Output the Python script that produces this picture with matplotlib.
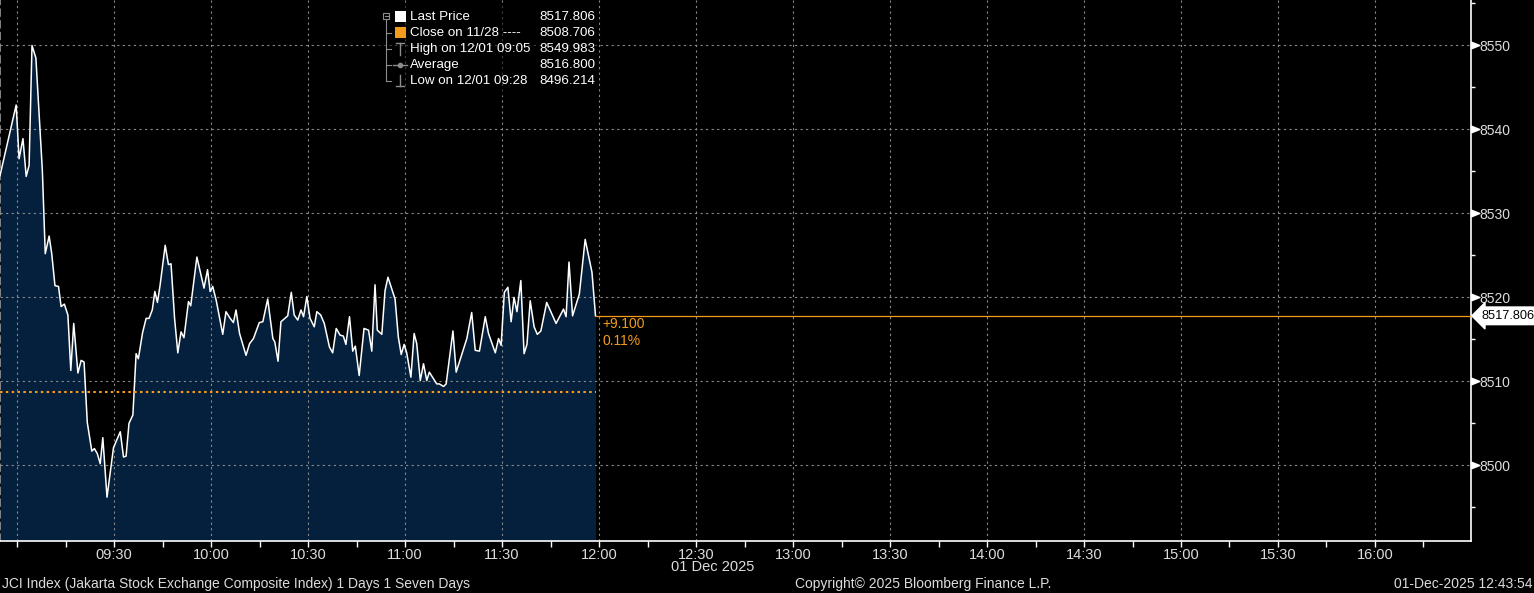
import numpy as np
import matplotlib
matplotlib.use("Agg")
import matplotlib.pyplot as plt
from matplotlib.path import Path
from matplotlib.ticker import FixedLocator, FuncFormatter
from matplotlib.transforms import blended_transform_factory

# minutes after 09:00 and JCI level
minutes = [-5.3, -0.3, 0.6, 1.8, 2.8, 3.7, 4.6, 5.8, 7.8, 8.7, 9.9, 10.7, 11.7, 12.8, 13.6,
           14.6, 15.7, 16.6, 17.5, 18.8, 19.8, 20.7, 21.7, 23.1, 23.9, 24.8, 25.7, 26.5, 27.8,
           29.8, 31.9, 32.9, 33.7, 34.6, 35.8, 36.8, 37.5, 38.8, 39.9, 40.8, 41.8, 42.6, 43.4,
           44.2, 45.8, 46.8, 47.6, 48.7, 49.7, 50.7, 51.6, 53.0, 53.7, 55.6, 57.8, 58.9, 59.7,
           60.5, 61.6, 63.6, 64.6, 65.9, 66.9, 67.7, 68.8, 70.8, 71.9, 73.1, 74.9, 76.0, 77.5,
           79.1, 79.7, 80.7, 81.6, 83.7, 84.8, 85.7, 86.8, 87.8, 88.6, 89.6, 90.6, 91.9, 92.7,
           93.9, 95.0, 96.6, 97.6, 98.7, 99.9, 100.9, 101.7, 102.8, 103.8, 104.6, 105.8, 107.3,
           108.7, 109.7, 110.7, 111.4, 112.8, 113.8, 114.7, 115.9, 116.9, 117.9, 118.8, 119.7,
           120.5, 121.8, 122.8, 123.6, 124.7, 125.7, 126.7, 127.5, 129.8, 130.6, 131.9, 132.7,
           133.8, 134.8, 135.8, 139.1, 140.6, 141.7, 143.0, 144.8, 145.8, 147.9, 148.9, 149.7,
           150.7, 151.8, 152.8, 153.7, 154.6, 155.8, 156.8, 157.7, 158.7, 159.9, 160.9, 162.0,
           163.8, 166.7, 169.0, 169.8, 170.7, 171.8, 173.9, 175.7, 177.8, 178.9]
price = [8534.5, 8542.9, 8536.5, 8538.9, 8534.4, 8535.7, 8549.983, 8548.5, 8535.1, 8525.2,
         8527.3, 8525.2, 8521.4, 8521.3, 8518.9, 8519.2, 8517.9, 8511.3, 8516.9, 8511.0, 8512.5,
         8512.3, 8505.1, 8501.7, 8502.0, 8501.4, 8500.2, 8503.3, 8496.214, 8502.1, 8504.0,
         8501.0, 8501.1, 8505.0, 8506.0, 8513.3, 8512.7, 8515.8, 8517.5, 8517.5, 8518.5, 8520.7,
         8519.4, 8521.4, 8526.2, 8523.9, 8524.0, 8517.5, 8513.4, 8515.9, 8515.2, 8519.5, 8519.0,
         8524.8, 8521.1, 8523.3, 8520.7, 8521.3, 8519.6, 8515.6, 8518.3, 8517.5, 8517.0, 8518.5,
         8515.7, 8513.1, 8514.5, 8515.1, 8517.0, 8517.1, 8519.8, 8515.1, 8514.7, 8512.4, 8517.1,
         8517.8, 8520.6, 8517.9, 8517.3, 8518.5, 8517.7, 8520.1, 8517.5, 8516.5, 8518.3, 8517.9,
         8516.9, 8514.1, 8513.4, 8516.3, 8515.5, 8515.4, 8514.4, 8517.7, 8513.6, 8514.2, 8510.7,
         8516.3, 8516.1, 8513.6, 8521.5, 8516.1, 8515.6, 8520.8, 8522.4, 8521.0, 8519.8, 8515.3,
         8513.2, 8514.4, 8513.4, 8510.5, 8515.7, 8514.5, 8510.1, 8512.1, 8510.1, 8511.1, 8509.7,
         8509.7, 8509.4, 8509.7, 8513.0, 8516.0, 8511.1, 8515.1, 8518.2, 8513.7, 8513.6, 8517.7,
         8515.7, 8513.4, 8515.1, 8514.3, 8520.6, 8521.2, 8517.1, 8520.0, 8518.3, 8522.0, 8513.3,
         8514.4, 8519.6, 8516.5, 8515.6, 8516.0, 8519.4, 8516.9, 8518.6, 8517.7, 8524.2, 8517.8,
         8520.4, 8526.9, 8523.0, 8517.806]

prev_close = 8508.706
average = 8516.800
high_label = "High on 12/01 09:05"
low_label = "Low on 12/01 09:28"
y_ticks = [8500, 8510, 8520, 8530, 8540, 8550]

ORANGE = "#f39c1b"
NAVY = "#04203d"
GRID = "#8a8a8a"
TXT = "#dcdcdc"

plt.rcParams['font.family'] = ['Liberation Sans', 'DejaVu Sans']

fig = plt.figure(figsize=(15.34, 5.93), dpi=100, facecolor="black")
ax = fig.add_axes([0, 52 / 593, 1471 / 1534, 541 / 593])
ax.set_facecolor("black")

xmin, xmax = -5.3, 449.7
ymin, ymax = 8491.0, 8555.4
ax.set_xlim(xmin, xmax)
ax.set_ylim(ymin, ymax)

last = price[-1]
ax.fill_between(minutes, price, ymin, color=NAVY, lw=0, zorder=1)
ax.plot(minutes, price, color="white", lw=1.1, zorder=3)
ax.plot([minutes[0], minutes[-1]], [prev_close, prev_close], color=ORANGE, lw=1.5,
        ls=(0, (1.2, 1.6)), zorder=4)
ax.plot([minutes[-1], xmax], [last, last], color=ORANGE, lw=0.9, zorder=4)

chg = last - prev_close
ax.annotate(f"{chg:+.3f}", (minutes[-1], last), xytext=(5, -6), textcoords="offset points",
            color=ORANGE, fontsize=10, va="center", ha="left")
ax.annotate(f"{chg / prev_close * 100:.2f}%", (minutes[-1], last), xytext=(5, -18),
            textcoords="offset points", color=ORANGE, fontsize=10, va="center", ha="left")

# grid
for yv in y_ticks:
    ax.axhline(yv, color=GRID, lw=0.8, ls=(0, (2, 3)), zorder=2)
for xv in range(0, 450, 30):
    ax.axvline(xv, color=GRID, lw=0.8, ls=(0, (2, 3)), zorder=2)

# spines
ax.spines["top"].set_visible(False)
ax.spines["left"].set_color("#9a9a9a")
ax.spines["left"].set_linestyle((0, (4, 3)))
ax.spines["left"].set_linewidth(1.2)
ax.spines["right"].set_color("white")
ax.spines["bottom"].set_color("white")
ax.spines["right"].set_linewidth(1.2)
ax.spines["bottom"].set_linewidth(1.2)

# x axis: ticks each 15 min, labels each 30 min
ax.xaxis.set_major_locator(FixedLocator(list(range(0, 450, 15))))


def fmt_time(m, pos=None):
    m = int(round(m))
    if m % 30 != 0 or m == 0:
        return ""
    return f"{9 + m // 60:02d}:{m % 60:02d}"


ax.xaxis.set_major_formatter(FuncFormatter(fmt_time))
ax.tick_params(axis="x", colors="white", labelcolor=TXT, length=4, width=1, direction="out",
               labelsize=10.5, pad=1)

# y axis on the right
ax.yaxis.tick_right()
ax.yaxis.set_major_locator(FixedLocator(y_ticks))
ax.yaxis.set_minor_locator(FixedLocator([v + 5 for v in y_ticks] + [y_ticks[0] - 5]))
ax.yaxis.set_major_formatter(FuncFormatter(lambda v, p: f"{v:.0f}"))
ax.tick_params(axis="y", which="major", length=0, labelcolor=TXT, labelsize=10, pad=6)
ax.tick_params(axis="y", which="minor", length=3, width=1, color="white")
tri = Path([(0, -0.4), (1, 0), (0, 0.4), (0, -0.4)])
tr = blended_transform_factory(ax.transAxes, ax.transData)
ax.plot([1.0] * len(y_ticks), y_ticks, ls="none", marker=tri, ms=12, color="white",
        transform=tr, clip_on=False, zorder=6)

ax.annotate(f"{last:.3f}", (1.0, last), xycoords=tr, xytext=(7.5, 0), textcoords="offset points",
            ha="left", va="center", fontsize=9.2, color="black",
            bbox=dict(boxstyle="larrow,pad=0.22", fc="white", ec="white"), annotation_clip=False)

ax.text(215, -0.048, "01 Dec 2025", transform=blended_transform_factory(ax.transData, ax.transAxes),
        ha="center", va="center", color=TXT, fontsize=10.5)

# overlay for legend and footer (pixel coordinates)
ov = fig.add_axes([0, 0, 1, 1])
ov.set_xlim(0, 1534)
ov.set_ylim(593, 0)
ov.axis("off")
ov.patch.set_alpha(0)

ov.add_patch(plt.Rectangle((377, 4), 222, 92, fc="black", ec="none", alpha=0.55))
rows = [17, 33, 49, 65, 81]
labels = ["Last Price", "Close on 11/28 ----", high_label, "Average", low_label]
values = [last, prev_close, max(price), average, min(price)]
tree = "#8c8c8c"
ov.plot([386, 386], [20, rows[-1]], color=tree, lw=0.8)
for r in rows[1:]:
    ov.plot([386, 391], [r, r], color=tree, lw=0.8)
ov.add_patch(plt.Rectangle((383, 12.5), 6, 6, fc="none", ec=tree, lw=0.8))
ov.plot([384.5, 387.5], [15.5, 15.5], color=tree, lw=0.8)
ov.add_patch(plt.Rectangle((395, 11), 11, 11, fc="white", ec="none"))
ov.add_patch(plt.Rectangle((395, 27), 11, 11, fc=ORANGE, ec="none"))
ov.plot([396, 404], [43, 43], color=tree, lw=1)
ov.plot([400, 400], [43, 55], color=tree, lw=1)
ov.plot([393, 407], [65, 65], color=tree, lw=1)
ov.plot([400], [65], color=tree, marker="o", ms=3)
ov.plot([400, 400], [75, 86], color=tree, lw=1)
ov.plot([396, 404], [86, 86], color=tree, lw=1)
for r, lab, v in zip(rows, labels, values):
    ov.text(410, r, lab, color="white", fontsize=9.6, va="center", ha="left")
    ov.text(595, r, f"{v:.3f}", color="white", fontsize=9.6, va="center", ha="right")

ov.text(2, 584, "JCI Index (Jakarta Stock Exchange Composite Index) 1 Days 1 Seven Days",
        color=TXT, fontsize=10, va="center", ha="left")
ov.text(923, 584, "Copyright\u00a9 2025 Bloomberg Finance L.P.", color=TXT, fontsize=10,
        va="center", ha="center")
ov.text(1532, 584, "01-Dec-2025 12:43:54", color=TXT, fontsize=10, va="center", ha="right")

fig.savefig("out.png", dpi=100, facecolor="black")
